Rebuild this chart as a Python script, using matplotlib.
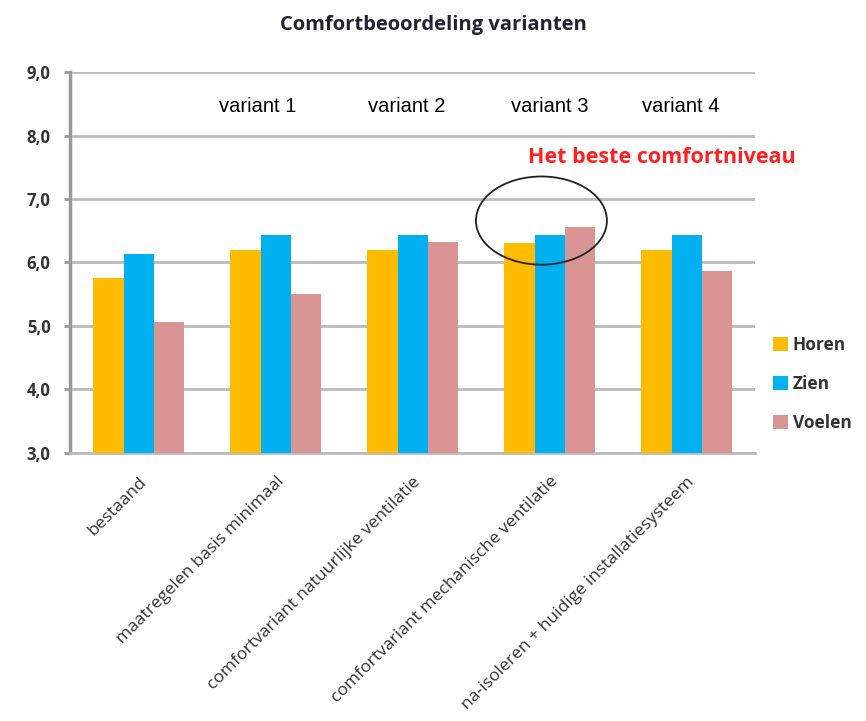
import matplotlib
matplotlib.use("Agg")
import matplotlib.pyplot as plt
from matplotlib.patches import Ellipse
import numpy as np

categories = [
    "bestaand",
    "maatregelen basis minimaal",
    "comfortvariant natuurlijke ventilatie",
    "comfortvariant mechanische ventilatie",
    "na-isoleren + huidige installatiesysteem",
]
variant_labels = ["variant 1", "variant 2", "variant 3", "variant 4"]
horen = [5.76, 6.20, 6.20, 6.31, 6.20]
zien = [6.13, 6.44, 6.44, 6.44, 6.44]
voelen = [5.06, 5.51, 6.32, 6.56, 5.87]
y_ticks = [3.0, 4.0, 5.0, 6.0, 7.0, 8.0, 9.0]

colors = {"Horen": "#FFBB00", "Zien": "#00B0F0", "Voelen": "#D99594"}
font = "Open Sans"

fig = plt.figure(figsize=(8.66, 7.21), dpi=100)
ax = fig.add_axes([0.081, 0.372, 0.791, 0.528])

x = np.arange(len(categories))
w = 0.22
ax.bar(x - w, horen, w, color=colors["Horen"], label="Horen", zorder=3)
ax.bar(x, zien, w, color=colors["Zien"], label="Zien", zorder=3)
ax.bar(x + w, voelen, w, color=colors["Voelen"], label="Voelen", zorder=3)

ax.set_ylim(3, 9)
ax.set_xlim(-0.5, len(categories) - 0.5)
ax.set_yticks(y_ticks)
ax.set_yticklabels([f"{v:.1f}".replace(".", ",") for v in y_ticks],
                   fontsize=12, fontweight="bold", color="#333333", family=font)
ax.yaxis.grid(True, color="#BBBBBB", linewidth=2, zorder=0)
ax.tick_params(axis="y", length=4, width=2, color="#999999", pad=10)
ax.tick_params(axis="x", length=0, pad=15)
ax.set_xticks(x)
ax.set_xticklabels(categories, rotation=45, ha="right", rotation_mode="anchor",
                   fontsize=12.6, color="#333333", family=font)

for s in ["top", "right"]:
    ax.spines[s].set_visible(False)
ax.spines["left"].set_color("#999999")
ax.spines["left"].set_linewidth(2.5)
ax.spines["bottom"].set_color("#BBBBBB")
ax.spines["bottom"].set_linewidth(2)

# variant labels above groups 2-5 (slightly left of the group centres)
variant_x = [0.87, 1.96, 3.0, 3.96]
for vx, lab in zip(variant_x, variant_labels):
    ax.text(vx, 8.45, lab, ha="center", va="center", fontsize=14.5,
            family="Liberation Sans")

ax.text(2.84, 7.66, "Het beste comfortniveau", ha="left", va="center",
        fontsize=15.5, fontweight="bold", color="#FF2020", family=font,
        clip_on=False)
ax.add_patch(Ellipse((2.94, 6.66), 0.956, 1.39, fill=False,
                     edgecolor="#222222", linewidth=1.3, zorder=5))

fig.text(0.501, 0.965, "Comfortbeoordeling varianten", ha="center",
         va="center", fontsize=14.5, fontweight="bold", color="#222233",
         family=font)

leg = ax.legend(loc="center left", bbox_to_anchor=(1.026, 0.18), frameon=False,
                borderpad=0, borderaxespad=0,
                handlelength=0.85, handleheight=0.85, handletextpad=0.3,
                labelspacing=1.2,
                prop={"family": font, "size": 12.5, "weight": "bold"})
for t in leg.get_texts():
    t.set_color("#333333")

fig.savefig("out.png", dpi=100)
